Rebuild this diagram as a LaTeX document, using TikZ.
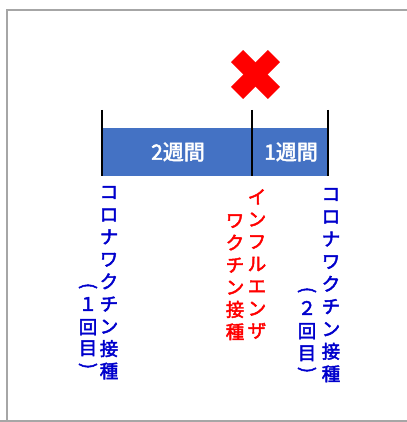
\documentclass[tikz,border=0pt]{standalone}
\usepackage{fontspec}
\newfontfamily\jp{Noto Sans CJK JP}[FakeBold=2.5]
\definecolor{barblue}{HTML}{4472C4}
\definecolor{txtblue}{HTML}{0000CC}
\definecolor{txtred}{HTML}{FF0000}
\definecolor{framegray}{HTML}{A6A6A6}
\tikzset{
  ch/.style={inner sep=0pt, font=\jp\fontsize{18.5}{18.5}\selectfont, text height=0.88em, text depth=0.12em, anchor=center},
  bartxt/.style={inner sep=0pt, font=\jp\fontsize{21}{21}\selectfont, text=white, anchor=center},
  tick/.style={line width=2pt, black},
  paren/.style={inner sep=0pt, font=\jp\fontsize{18}{18}\selectfont, rotate=-90, anchor=center}
}
\begin{document}
\begin{tikzpicture}[x=1pt,y=-1pt]
\useasboundingbox (0,0) rectangle (406,422);
% frame
\draw[framegray, line width=1.5pt] (7,440) -- (7,10) -- (440,10);
\draw[framegray, line width=1.5pt] (0,421) -- (440,421);
% bar
\fill[barblue] (102,128.5) rectangle (328,176);
\coordinate (a0) at (102,110); \coordinate (a1) at (102,176);
\coordinate (m0) at (252,110); \coordinate (m1) at (252,176);
\coordinate (e0) at (328,110); \coordinate (e1) at (328,176);
\draw[tick] (a0) -- (a1);
\draw[tick] (m0) -- (m1);
\draw[tick] (e0) -- (e1);
\node[bartxt] (w2) at (178,152) {2週間};
\node[bartxt] (w1) at (291,152) {1週間};
% cross
\begin{scope}[shift={(255.5,74.5)}]
\fill[txtred, rotate=45] (-26,-8.5) rectangle (26,8.5);
\fill[txtred, rotate=-45] (-26,-8.5) rectangle (26,8.5);
\end{scope}
% blue column 1
\foreach \c [count=\i from 0] in {コ,ロ,ナ,ワ,ク,チ,ン,接,種}
  \node[ch, text=txtblue] (ba\i) at (109,195+\i*22.4) {\c};
\node[paren, text=txtblue] (pa0) at (88,286) {(};
\node[ch, text=txtblue] (pa1) at (88,307) {１};
\node[ch, text=txtblue] (pa2) at (88,330) {回};
\node[ch, text=txtblue] (pa3) at (88,351) {目};
\node[paren, text=txtblue] (pa4) at (88,366) {)};
% red columns
\foreach \c [count=\i from 0] in {イ,ン,フ,ル,エ,ン,ザ}
  \node[ch, text=txtred] (ra\i) at (257,200+\i*22.3) {\c};
\foreach \c [count=\i from 0] in {ワ,ク,チ,ン,接,種}
  \node[ch, text=txtred] (rb\i) at (235,223.5+\i*22.3) {\c};
% blue column 2
\foreach \c [count=\i from 0] in {コ,ロ,ナ,ワ,ク,チ,ン,接,種}
  \node[ch, text=txtblue] (bb\i) at (331,197+\i*22.5) {\c};
\node[paren, text=txtblue] (pb0) at (307,290) {(};
\node[ch, text=txtblue] (pb1) at (307,311) {２};
\node[ch, text=txtblue] (pb2) at (307,334) {回};
\node[ch, text=txtblue] (pb3) at (307,356) {目};
\node[paren, text=txtblue] (pb4) at (307,370) {)};
\end{tikzpicture}
\end{document}
